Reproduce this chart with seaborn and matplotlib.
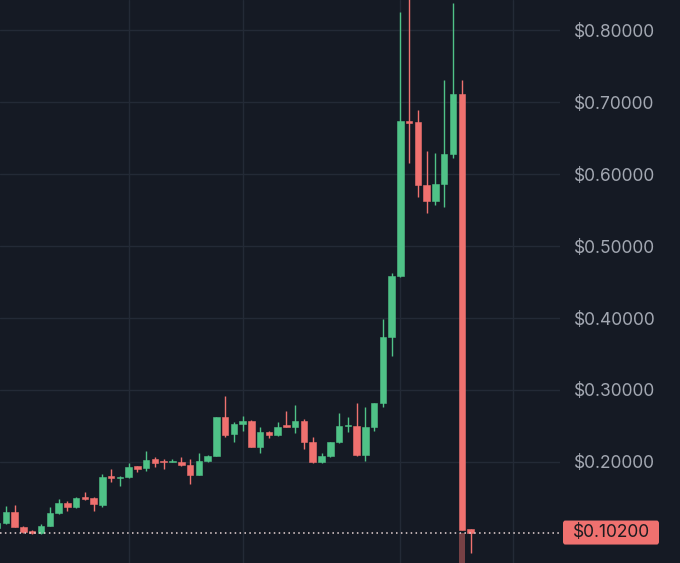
import matplotlib
matplotlib.use("Agg")
import matplotlib.pyplot as plt
import matplotlib.transforms as mtransforms
from matplotlib.patches import FancyBboxPatch
import pandas as pd
import seaborn as sns

# candle data (price in $), one entry per candle, left to right
opens = [0.1083, 0.1146, 0.1310, 0.1101, 0.1046, 0.1010, 0.1111, 0.1287, 0.1435, 0.1379,
         0.1510, 0.1496, 0.1403, 0.1806, 0.1782, 0.1787, 0.1944, 0.1921, 0.2037, 0.2018,
         0.1996, 0.2000, 0.1954, 0.1824, 0.2018, 0.2087, 0.2621, 0.2385, 0.2528, 0.2574,
         0.2212, 0.2421, 0.2375, 0.2510, 0.2482, 0.2574, 0.2282, 0.1996, 0.2087, 0.2271,
         0.2500, 0.2496, 0.2093, 0.2482, 0.2819, 0.3732, 0.4583, 0.6740, 0.6718, 0.5847,
         0.5625, 0.5857, 0.6278, 0.7107, 0.1065]
highs = [0.1194, 0.1389, 0.1403, 0.1111, 0.1056, 0.1135, 0.1379, 0.1482, 0.1462, 0.1510,
         0.1579, 0.1518, 0.1833, 0.1899, 0.1810, 0.1982, 0.1951, 0.2153, 0.2074, 0.2042,
         0.2042, 0.2065, 0.2037, 0.2129, 0.2097, 0.2625, 0.2912, 0.2560, 0.2639, 0.2583,
         0.2482, 0.2435, 0.2551, 0.2712, 0.2792, 0.2597, 0.2343, 0.2121, 0.2278, 0.2681,
         0.2629, 0.2824, 0.2768, 0.2826, 0.3986, 0.4621, 0.8254, 0.8700, 0.6889, 0.6324,
         0.6288, 0.7306, 0.8379, 0.7306, 0.1069]
lows = [0.1056, 0.1139, 0.1097, 0.1014, 0.1000, 0.1000, 0.1104, 0.1278, 0.1324, 0.1357,
        0.1472, 0.1324, 0.1371, 0.1726, 0.1671, 0.1778, 0.1865, 0.1879, 0.1926, 0.1907,
        0.1993, 0.1944, 0.1694, 0.1819, 0.2004, 0.2083, 0.2347, 0.2282, 0.2435, 0.2208,
        0.2129, 0.2338, 0.2361, 0.2486, 0.2399, 0.2176, 0.1990, 0.1990, 0.2065, 0.2264,
        0.2417, 0.2083, 0.2018, 0.2437, 0.2768, 0.3472, 0.4569, 0.6149, 0.5676, 0.5454,
        0.5569, 0.5538, 0.6218, 0.1056, 0.0732]
closes = [0.1153, 0.1310, 0.1101, 0.1032, 0.1018, 0.1111, 0.1296, 0.1435, 0.1379, 0.1496,
          0.1490, 0.1412, 0.1796, 0.1774, 0.1796, 0.1935, 0.1907, 0.2028, 0.1990, 0.2000,
          0.2010, 0.1954, 0.1824, 0.2018, 0.2087, 0.2621, 0.2371, 0.2528, 0.2574, 0.2212,
          0.2421, 0.2375, 0.2490, 0.2490, 0.2574, 0.2282, 0.1996, 0.2087, 0.2271, 0.2496,
          0.2514, 0.2093, 0.2482, 0.2819, 0.3732, 0.4583, 0.6740, 0.6712, 0.5847, 0.5625,
          0.5857, 0.6278, 0.7107, 0.1056, 0.1020]
last_price = 0.102
price_ticks = [0.2, 0.3, 0.4, 0.5, 0.6, 0.7, 0.8]
period_breaks = [15, 28, 45.9, 58.8]

df = pd.DataFrame({"open": opens, "high": highs, "low": lows, "close": closes})
df["idx"] = range(len(df))
df["up"] = df["close"] >= df["open"]

BG = "#151a24"
GRID = "#232a36"
GREEN = "#4fc287"
RED = "#ef716f"
TEXT = "#a3a8b2"

sns.set_theme(style="dark", rc={
    "axes.facecolor": BG,
    "figure.facecolor": BG,
    "grid.color": GRID,
    "axes.grid": True,
})
plt.rcParams["font.family"] = ["Inter", "DejaVu Sans"]

fig = plt.figure(figsize=(6.8, 5.63), dpi=100)
ax = fig.add_axes([0, 0, 560 / 680, 1])

colors = df["up"].map({True: GREEN, False: RED})
ax.vlines(df["idx"], df["low"], df["high"], colors=colors, linewidth=1.0, zorder=2)
body = (df["close"] - df["open"]).abs().clip(lower=0.0012)
ax.bar(df["idx"], body, bottom=df[["open", "close"]].min(axis=1), width=0.74,
       color=colors, edgecolor=colors, linewidth=0.4, zorder=3)

ymin, ymax = 0.0597, 0.8417
# dimmed part below the dump candle
big = (df["open"] - df["close"]).idxmax()
ax.bar(big, last_price - ymin, bottom=ymin, width=0.74, color=RED, alpha=0.45,
       linewidth=0, zorder=2)

ax.axhline(last_price, color="#e9d6d6", linestyle=(0, (1, 2.2)), linewidth=1.1, zorder=4)

ax.set_xlim(0.32, 64.21)
ax.set_ylim(ymin, ymax)
ax.set_xticks(period_breaks)
ax.set_xticklabels([])
ax.set_yticks(price_ticks)
ax.yaxis.tick_right()
ax.set_yticklabels([f"${v:.5f}" for v in price_ticks], color=TEXT, fontsize=12.5)
ax.tick_params(axis="y", length=0, pad=10)
ax.tick_params(axis="x", length=0)
ax.grid(True, color=GRID, linewidth=1.0)
for s in ax.spines.values():
    s.set_visible(False)

# last price tag on the right
trans = mtransforms.blended_transform_factory(ax.transAxes, ax.transData)
half_h = 12 / 720
tag = FancyBboxPatch((1.0 + 3 / 560, last_price - half_h), 96 / 560, 2 * half_h,
                     boxstyle="round,pad=0,rounding_size=0.004", transform=trans,
                     facecolor=RED, edgecolor="none", clip_on=False, zorder=5,
                     mutation_aspect=1)
ax.add_patch(tag)
ax.text(1.0 + 13 / 560, last_price, f"${last_price:.5f}", transform=trans,
        ha="left", va="center", fontsize=12.5, color="#1b1b1f", clip_on=False, zorder=6)

fig.savefig("out.png", dpi=100, facecolor=BG)
